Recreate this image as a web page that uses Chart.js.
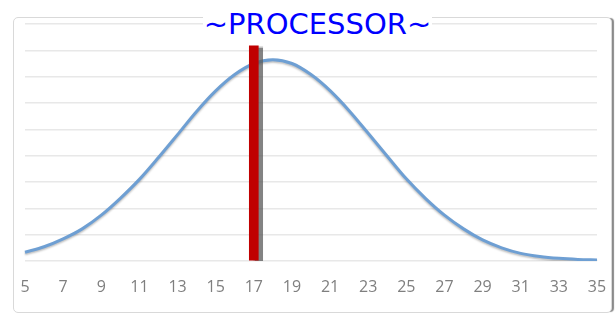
<!DOCTYPE html>
<html>
<head>
<meta charset="utf-8">
<script src="https://cdn.jsdelivr.net/npm/chart.js@4.4.1/dist/chart.umd.min.js"></script>
<style>
  html, body { margin: 0; padding: 0; background: #ffffff; }
  #wrap { position: relative; width: 616px; height: 316px; overflow: hidden; }
  #frame { position: absolute; left: 13px; top: 17px; width: 597px; height: 294px;
           border: 1px solid #d9d9d9; border-radius: 5px;
           box-shadow: 3px 0px 1px -1px #8a8a8a; background: #ffffff; }
  #cv { position: absolute; left: 0; top: 0; }
  #title { position: absolute; left: 0; top: 10px; width: 616px; padding-left: 19px; box-sizing: border-box;
           text-align: center; font-family: "DejaVu Sans", sans-serif; font-size: 29px; line-height: 29px; }
  #title span { background: #ffffff; color: #0000ff; padding: 0 1px; }
</style>
</head>
<body>
<div id="wrap">
  <div id="frame"></div>
  <canvas id="cv" width="616" height="316"></canvas>
  <div id="title"><span>~PROCESSOR~</span></div>
</div>
<script>
const categories = [5,6,7,8,9,10,11,12,13,14,15,16,17,18,19,20,21,22,23,24,25,26,27,28,29,30,31,32,33,34,35];
const curveValues = [0.33,0.54,0.84,1.22,1.74,2.38,3.10,3.93,4.80,5.68,6.46,7.08,7.50,7.64,7.50,7.08,6.47,5.71,4.85,3.98,3.12,2.38,1.74,1.22,0.80,0.50,0.29,0.17,0.10,0.06,0.04];
const markerCategory = 17;
const markerValue = 8.17;
const markerValues = categories.map(c => c === markerCategory ? markerValue : null);

const shadowPlugin = {
  id: 'shadows',
  beforeDatasetDraw(chart, args) {
    const ctx = chart.ctx;
    ctx.save();
    if (args.index === 0) {
      ctx.shadowColor = 'rgba(90,90,90,0.75)';
      ctx.shadowOffsetX = 4;
      ctx.shadowOffsetY = 0;
      ctx.shadowBlur = 1;
    } else {
      ctx.shadowColor = 'rgba(0,0,0,0.25)';
      ctx.shadowOffsetX = 0;
      ctx.shadowOffsetY = 1.5;
      ctx.shadowBlur = 2;
    }
  },
  afterDatasetDraw(chart) {
    chart.ctx.restore();
  }
};

new Chart(document.getElementById('cv'), {
  data: {
    labels: categories,
    datasets: [
      {
        type: 'bar',
        data: markerValues,
        backgroundColor: '#c00000',
        borderWidth: 0,
        barThickness: 9,
        order: 1
      },
      {
        type: 'line',
        data: curveValues,
        borderColor: '#6e9fd3',
        borderWidth: 3,
        pointRadius: 0,
        fill: false,
        cubicInterpolationMode: 'monotone',
        order: 2
      }
    ]
  },
  options: {
    responsive: false,
    animation: false,
    events: [],
    layout: { padding: { left: 25, right: 19, top: 24, bottom: 3 } },
    plugins: { legend: { display: false }, title: { display: false }, tooltip: { enabled: false } },
    scales: {
      x: {
        type: 'category',
        offset: false,
        afterFit: (s) => { s.height = 52; s.paddingLeft = 0; s.paddingRight = 0; },
        grid: { display: false, drawTicks: false },
        border: { display: false },
        ticks: {
          autoSkip: false,
          maxRotation: 0,
          padding: 17,
          color: '#7f7f7f',
          font: { family: '"Open Sans", sans-serif', size: 16 },
          callback: function(value, index) { return index % 2 === 0 ? this.getLabelForValue(value) : ''; }
        }
      },
      y: {
        min: 0,
        max: 9,
        afterFit: (s) => { s.width = 0; },
        ticks: { display: false, stepSize: 1 },
        grid: { color: '#e8e8e8', lineWidth: 1.6, drawTicks: false },
        border: { display: false }
      }
    }
  },
  plugins: [shadowPlugin]
});
</script>
</body>
</html>
